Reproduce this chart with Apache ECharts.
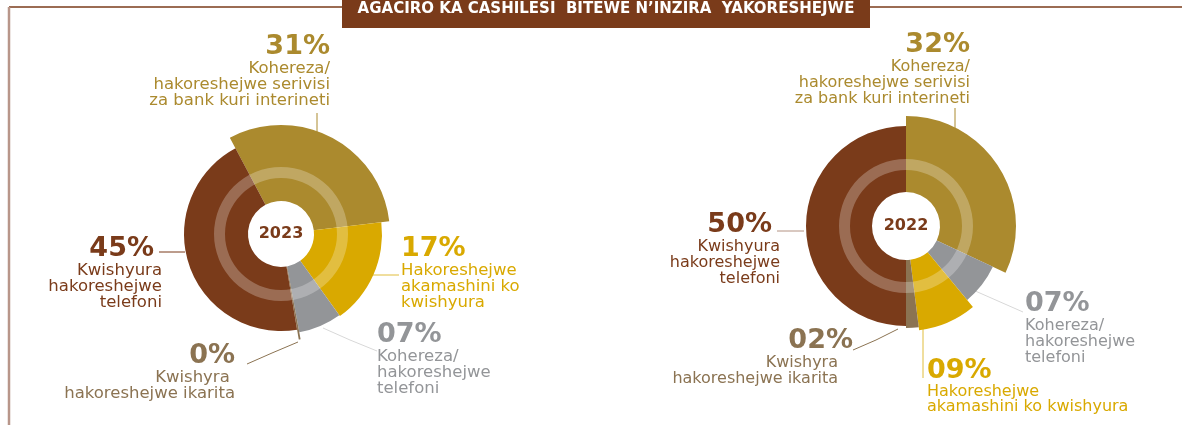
<!DOCTYPE html>
<html>
<head>
<meta charset="utf-8">
<script src="https://cdn.jsdelivr.net/npm/echarts@6/dist/echarts.min.js"></script>
<style>
  html, body { margin: 0; padding: 0; background: #fff; }
  #chart { width: 1182px; height: 425px; }
</style>
</head>
<body>
<div id="chart"></div>
<script>
// data
var chartTitle = 'AGACIRO KA CASHILESI  BITEWE N\u2019INZIRA  YAKORESHEJWE';

var cats2023 = ['bank', 'atm', 'phoneTransfer', 'card', 'phonePay'];
var values2023 = [31, 17, 7, 0, 45];
var pct2023 = ['31%', '17%', '07%', '0%', '45%'];
var text2023 = [
    ['Kohereza/', 'hakoreshejwe serivisi', 'za bank kuri interineti'],
    ['Hakoreshejwe', 'akamashini ko', 'kwishyura'],
    ['Kohereza/', 'hakoreshejwe', 'telefoni'],
    ['Kwishyra ', 'hakoreshejwe ikarita'],
    ['Kwishyura', 'hakoreshejwe', 'telefoni']
];

var cats2022 = ['bank', 'phoneTransfer', 'atm', 'card', 'phonePay'];
var values2022 = [32, 7, 9, 2, 50];
var pct2022 = ['32%', '07%', '09%', '02%', '50%'];
var text2022 = [
    ['Kohereza/', 'hakoreshejwe serivisi', 'za bank kuri interineti'],
    ['Kohereza/', 'hakoreshejwe', 'telefoni'],
    ['Hakoreshejwe', 'akamashini ko kwishyura'],
    ['Kwishyra', 'hakoreshejwe ikarita'],
    ['Kwishyura', 'hakoreshejwe', 'telefoni']
];

// styles
var FONT = 'DejaVu Sans';
var colors = {
    bank: '#ab8a2e',
    atm: '#d9a900',
    phoneTransfer: '#939598',
    card: '#8b7352',
    phonePay: '#7a3b1a'
};

var charts = [
    {
        year: '2023', cats: cats2023, values: values2023, pct: pct2023, text: text2023,
        center: [281, 234], hole: 33, startAngle: 118, minAngle: 1, textSize: 16.5,
        radius: { bank: 109, atm: 101, phoneTransfer: 100, card: 107, phonePay: 97 },
        labels: {
            bank: { x: 330, y: 33, align: 'right', color: '#ab8a2e', line: [[317, 132], [317, 122], [317, 113]] },
            atm: { x: 401, y: 235, align: 'left', color: '#e0bd3c', line: [[373, 275], [386, 275], [399, 275]] },
            phoneTransfer: { x: 377, y: 321, align: 'left', color: '#d8d8d8', line: [[323, 328], [350, 340], [377, 351]] },
            card: { x: 235, y: 342, align: 'right', color: '#8b7352', line: [[298, 342], [272, 353], [247, 364]] },
            phonePay: { x: 162, y: 235, align: 'right', pPad: [0, 8, 0, 0], color: '#7a3b1a', line: [[185, 252], [172, 252], [159, 252]] }
        }
    },
    {
        year: '2022', cats: cats2022, values: values2022, pct: pct2022, text: text2022,
        center: [906, 226], hole: 34, startAngle: 90, minAngle: 0, textSize: 16,
        radius: { bank: 110, phoneTransfer: 96, atm: 105, card: 102, phonePay: 100 },
        labels: {
            bank: { x: 970, y: 31, align: 'right', color: '#ab8a2e', line: [[955, 130], [955, 119], [955, 108]] },
            phoneTransfer: { x: 1025, y: 290, align: 'left', color: '#d8d8d8', line: [[973, 290], [998, 301], [1023, 312]] },
            atm: { x: 927, y: 357, align: 'left', lh: 14.5, color: '#e0bd3c', line: [[923, 329], [923, 353], [923, 378]] },
            card: { x: 853, y: 327, align: 'right', tPad: [0, 15, 0, 0], color: '#8b7352', line: [[898, 329], [876, 340], [853, 350]] },
            phonePay: { x: 780, y: 211, align: 'right', pPad: [0, 8, 0, 0], color: '#b39282', line: [[804, 231], [790, 231], [777, 231]] }
        }
    }
];

var series = [];

charts.forEach(function (c) {
    c.cats.forEach(function (cat, i) {
        var lay = c.labels[cat];
        var col = colors[cat];
        var fmt = '{p|' + c.pct[i] + '}\n' + c.text[i].map(function (l) { return '{t|' + l + '}'; }).join('\n');
        series.push({
            type: 'pie',
            center: c.center,
            radius: [c.hole, c.radius[cat]],
            startAngle: c.startAngle,
            minAngle: c.minAngle,
            clockwise: true,
            silent: true,
            animation: false,
            avoidLabelOverlap: false,
            emphasis: { disabled: true },
            data: c.values.map(function (v, j) {
                var on = j === i;
                return {
                    value: v,
                    name: c.cats[j],
                    itemStyle: { color: on ? col : 'rgba(0,0,0,0)' },
                    label: { show: on },
                    labelLine: { show: on }
                };
            }),
            label: {
                position: 'outside',
                formatter: fmt,
                rich: {
                    p: { fontFamily: FONT, fontSize: 27, fontWeight: 'bold', color: col, lineHeight: 28, align: lay.align, padding: lay.pPad || 0 },
                    t: { fontFamily: FONT, fontSize: c.textSize, color: col, lineHeight: lay.lh || 16, align: lay.align, padding: lay.tPad || 0 }
                }
            },
            labelLine: { show: true, lineStyle: { color: lay.color, width: 1 } },
            labelLayout: function () {
                return { x: lay.x, y: lay.y, align: lay.align, verticalAlign: 'top', labelLinePoints: lay.line };
            }
        });
    });

    // translucent ring + year in the hole
    series.push({
        type: 'pie',
        center: c.center,
        radius: [56, 67],
        silent: true,
        animation: false,
        z: 3,
        emphasis: { disabled: true },
        data: [{ value: 1, name: c.year, itemStyle: { color: 'rgba(255,255,255,0.25)' } }],
        label: {
            show: true,
            position: 'center',
            formatter: c.year,
            fontFamily: FONT,
            fontSize: 16,
            fontWeight: 'bold',
            color: '#7a3b1a'
        },
        labelLine: { show: false }
    });
});

var myChart = echarts.init(document.getElementById('chart'));
myChart.setOption({
    animation: false,
    graphic: [
        { type: 'line', shape: { x1: 9, y1: 7, x2: 1182, y2: 7 }, style: { stroke: '#7a3b1a', lineWidth: 1.5 } },
        { type: 'line', shape: { x1: 9, y1: 7, x2: 9, y2: 425 }, style: { stroke: '#b8968a', lineWidth: 2.5 } },
        { type: 'rect', shape: { x: 342, y: 0, width: 528, height: 28 }, style: { fill: '#7a3b1a' } },
        { type: 'text', x: 606, y: 9, style: { text: chartTitle, fill: '#fff', font: 'bold 15px "DejaVu Sans"', align: 'center', verticalAlign: 'middle' } }
    ],
    series: series
});
</script>
</body>
</html>
